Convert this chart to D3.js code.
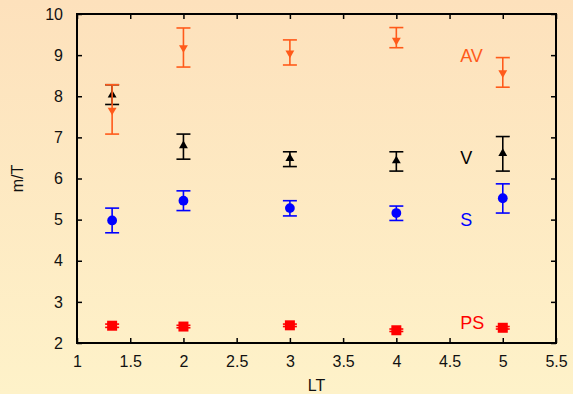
<!DOCTYPE html>
<html>
<head>
<meta charset="utf-8">
<script src="https://cdn.jsdelivr.net/npm/d3@7"></script>
<style>
  html, body { margin: 0; padding: 0; }
  svg { display: block; font-family: "Liberation Sans", Arial, sans-serif; }
</style>
</head>
<body>
<div id="chart"></div>
<script>
// x positions (LT)
const lt = [1.33, 2, 3, 4, 5];

// series: value, lower bar, upper bar
const avVal = [7.66, 9.18, 9.05, 9.36, 8.57];
const avLo  = [7.08, 8.71, 8.76, 9.18, 8.22];
const avHi  = [8.28, 9.66, 9.37, 9.67, 8.94];

const vVal = [8.03, 6.80, 6.49, 6.43, 6.61];
const vLo  = [7.80, 6.47, 6.29, 6.18, 6.18];
const vHi  = [8.28, 7.08, 6.65, 6.65, 7.02];

const sVal = [4.98, 5.46, 5.28, 5.16, 5.52];
const sLo  = [4.68, 5.22, 5.09, 4.98, 5.16];
const sHi  = [5.28, 5.70, 5.46, 5.33, 5.87];

const psVal = [2.42, 2.40, 2.43, 2.31, 2.37];
const psLo  = [2.38, 2.37, 2.40, 2.28, 2.34];
const psHi  = [2.46, 2.43, 2.46, 2.34, 2.40];

const xTicks = [1, 1.5, 2, 2.5, 3, 3.5, 4, 4.5, 5, 5.5];
const yTicks = [2, 3, 4, 5, 6, 7, 8, 9, 10];

const labels = [
  { text: 'AV', x: 4.6, y: 9.0, color: '#ff5a1a' },
  { text: 'V',  x: 4.6, y: 6.5, color: '#000000' },
  { text: 'S',  x: 4.6, y: 5.0, color: '#0000ff' },
  { text: 'PS', x: 4.6, y: 2.49, color: '#ff0000' }
];

const W = 573, H = 394;
const margin = { top: 14, right: 17, bottom: 51, left: 77 };
const width = W - margin.left - margin.right;
const height = H - margin.top - margin.bottom;

const svg = d3.select('#chart').append('svg')
  .attr('width', W).attr('height', H);

const grad = svg.append('defs').append('linearGradient')
  .attr('id', 'bg').attr('x1', 0).attr('y1', 0).attr('x2', 0).attr('y2', 1);
grad.append('stop').attr('offset', '0%').attr('stop-color', '#fde1bc');
grad.append('stop').attr('offset', '100%').attr('stop-color', '#fef2c9');

svg.append('rect').attr('width', W).attr('height', H).attr('fill', 'url(#bg)');

const g = svg.append('g').attr('transform', `translate(${margin.left},${margin.top})`);

const x = d3.scaleLinear().domain([1, 5.5]).range([0, width]);
const y = d3.scaleLinear().domain([2, 10]).range([height, 0]);

// axes with inward ticks
const styleAxis = sel => {
  sel.select('.domain').remove();
  sel.selectAll('line').attr('stroke', '#000').attr('stroke-width', 1.5);
  sel.selectAll('text').attr('font-size', '16px').attr('fill', '#111')
    .attr('font-family', '"Liberation Sans", Arial, sans-serif');
};

g.append('g').attr('transform', `translate(0,${height})`)
  .call(d3.axisBottom(x).tickValues(xTicks).tickFormat(d3.format('')).tickSizeInner(-5).tickSizeOuter(0).tickPadding(13))
  .call(styleAxis);
g.append('g')
  .call(d3.axisTop(x).tickValues(xTicks).tickFormat('').tickSizeInner(-5).tickSizeOuter(0))
  .call(styleAxis);
g.append('g')
  .call(d3.axisLeft(y).tickValues(yTicks).tickSizeInner(-5).tickSizeOuter(0).tickPadding(14))
  .call(styleAxis);
g.append('g').attr('transform', `translate(${width},0)`)
  .call(d3.axisRight(y).tickValues(yTicks).tickFormat('').tickSizeInner(-5).tickSizeOuter(0))
  .call(styleAxis);

g.append('rect').attr('width', width).attr('height', height)
  .attr('fill', 'none').attr('stroke', '#000').attr('stroke-width', 2);

// series drawing
const series = [
  { vals: psVal, lo: psLo, hi: psHi, color: '#ff0000', sym: d3.symbolSquare, size: 100 },
  { vals: sVal, lo: sLo, hi: sHi, color: '#0000ff', sym: d3.symbolCircle, size: 75 },
  { vals: vVal, lo: vLo, hi: vHi, color: '#000000', sym: d3.symbolTriangle, size: 34, rot: 0 },
  { vals: avVal, lo: avLo, hi: avHi, color: '#ff5a1a', sym: d3.symbolTriangle, size: 34, rot: 180 }
];

const capW = 7;
series.forEach(s => {
  const data = lt.map((d, i) => ({ x: d, v: s.vals[i], lo: s.lo[i], hi: s.hi[i] }));
  const sg = g.append('g');
  sg.selectAll('line.stem').data(data).enter().append('line')
    .attr('x1', d => x(d.x)).attr('x2', d => x(d.x))
    .attr('y1', d => y(d.lo)).attr('y2', d => y(d.hi))
    .attr('stroke', s.color).attr('stroke-width', 1.6);
  ['lo', 'hi'].forEach(k => {
    sg.selectAll('line.cap-' + k).data(data).enter().append('line')
      .attr('x1', d => x(d.x) - capW).attr('x2', d => x(d.x) + capW)
      .attr('y1', d => y(d[k])).attr('y2', d => y(d[k]))
      .attr('stroke', s.color).attr('stroke-width', 1.6);
  });
  sg.selectAll('path.pt').data(data).enter().append('path')
    .attr('d', d3.symbol().type(s.sym).size(s.size))
    .attr('transform', d => `translate(${x(d.x)},${y(d.v)}) rotate(${s.rot || 0})`)
    .attr('fill', s.color);
});

// series labels
g.selectAll('text.lbl').data(labels).enter().append('text')
  .attr('x', d => x(d.x)).attr('y', d => y(d.y))
  .attr('dy', '0.36em')
  .attr('font-size', '18px')
  .attr('fill', d => d.color)
  .text(d => d.text);

// axis titles
svg.append('text')
  .attr('transform', `translate(23,${margin.top + height / 2}) rotate(-90)`)
  .attr('text-anchor', 'middle')
  .attr('font-size', '16px').attr('fill', '#111')
  .text('m/T');
svg.append('text')
  .attr('x', margin.left + width / 2).attr('y', 391)
  .attr('text-anchor', 'middle')
  .attr('font-size', '16px').attr('fill', '#111')
  .text('LT');
</script>
</body>
</html>
